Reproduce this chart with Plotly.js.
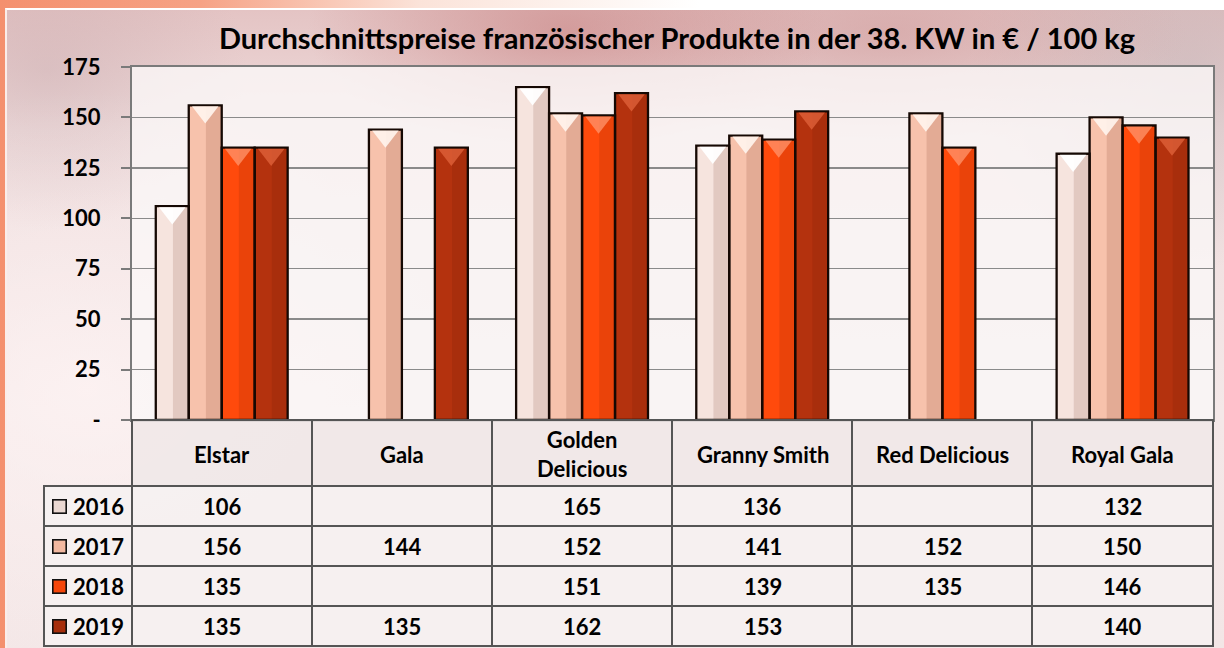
<!DOCTYPE html>
<html>
<head>
<meta charset="utf-8">
<script src="https://cdn.plot.ly/plotly-3.0.1.min.js"></script>
<style>
  html, body { margin: 0; padding: 0; }
  #frame {
    position: relative; width: 1224px; height: 648px; overflow: hidden;
    background: linear-gradient(90deg, #F4906E 0px, #F6A285 200px, #FBE3D9 420px, #FFFFFF 700px);
  }
  #photo {
    position: absolute; left: 5px; top: 8px; right: 0; bottom: 0;
    border-left: 2px solid #FBEDEA; border-top: 2px solid #FFFFFF;
    background:
      radial-gradient(ellipse 260px 120px at 560px 20px, rgba(196,120,120,0.55), rgba(196,120,120,0) 100%),
      radial-gradient(ellipse 300px 110px at 880px 25px, rgba(200,140,140,0.45), rgba(200,140,140,0) 100%),
      radial-gradient(ellipse 200px 160px at 40px 60px, rgba(190,160,165,0.35), rgba(190,160,165,0) 100%),
      radial-gradient(ellipse 220px 200px at 1180px 60px, rgba(170,160,165,0.35), rgba(170,160,165,0) 100%),
      radial-gradient(ellipse 400px 300px at 80px 380px, rgba(255,245,245,0.7), rgba(255,245,245,0) 100%),
      linear-gradient(180deg, #E4C4C4 0px, #EFDCDC 120px, #F4E8E8 400px, #F3E6E6 648px);
  }
  #chart { position: absolute; left: 0; top: 0; width: 1224px; height: 648px; }
</style>
</head>
<body>
<div id="frame"><div id="photo"></div><div id="chart"></div></div>
<script>
// ---- data ----
const categories = ['Elstar', 'Gala', 'Golden Delicious', 'Granny Smith', 'Red Delicious', 'Royal Gala'];
const headerLabels = ['Elstar', 'Gala', 'Golden<br>Delicious', 'Granny Smith', 'Red Delicious', 'Royal Gala'];
const years = ['2016', '2017', '2018', '2019'];
const v2016 = [106, null, 165, 136, null, 132];
const v2017 = [156, 144, 152, 141, 152, 150];
const v2018 = [135, null, 151, 139, 135, 146];
const v2019 = [135, 135, 162, 153, null, 140];
const yTickVals = [0, 25, 50, 75, 100, 125, 150, 175];
const yTickText = ['-', '25', '50', '75', '100', '125', '150', '175'];
const title = 'Durchschnittspreise französischer Produkte in der 38. KW in € / 100 kg';

// ---- style ----
const series = [v2016, v2017, v2018, v2019];
const mainColors = ['#F6E4DE', '#F7C2AC', '#FF4A0C', '#B4320E'];
const triColors = ['rgba(255,255,255,0.95)', 'rgba(255,245,238,0.9)', 'rgba(255,150,110,0.75)', 'rgba(225,100,60,0.75)'];
const legendColors = ['#EAD8D2', '#F2B8A0', '#F5460A', '#A62E0C'];
const FONT = 'Lato, "Open Sans", "Noto Sans", sans-serif';
const TXT = { family: FONT, size: 22, color: '#000', weight: 'bold' };
const BAR_W = 0.183;
const GROUP_OFF = -0.368;
const W = 1224, H = 648;
const ML = 44, MR = 11;
const plotL = 132, plotR = 1213, plotT = 67, plotB = 420;
const areaW = W - ML - MR;
const headH = 66, rowH = 40;
const TRI_SIZE = 23;
const pxPerUnit = (plotB - plotT) / 175;
const triShift = (TRI_SIZE / 4 + 1) / pxPerUnit;

const traces = [];
series.forEach((vals, k) => {
  traces.push({
    type: 'bar', x: categories, y: vals, name: years[k],
    offset: GROUP_OFF + k * BAR_W, width: BAR_W,
    marker: { color: mainColors[k], line: { width: 0 } },
    hoverinfo: 'skip', showlegend: false
  });
});
series.forEach((vals, k) => {
  traces.push({
    type: 'bar', x: categories, y: vals,
    offset: GROUP_OFF + k * BAR_W + BAR_W * 0.52, width: BAR_W * 0.48,
    marker: { color: 'rgba(90,20,0,0.13)', line: { width: 0 } },
    hoverinfo: 'skip', showlegend: false
  });
});
// top highlight triangles, on overlay axes matching the category slots
series.forEach((vals, k) => {
  traces.push({
    type: 'scatter', mode: 'markers',
    x: categories.map((c, i) => i + GROUP_OFF + (k + 0.5) * BAR_W), y: vals,
    xaxis: 'x2', yaxis: 'y2',
    marker: { symbol: 'triangle-down', size: TRI_SIZE, color: triColors[k], line: { width: 0 } },
    hoverinfo: 'skip', showlegend: false
  });
});
series.forEach((vals, k) => {
  traces.push({
    type: 'bar', x: categories, y: vals,
    offset: GROUP_OFF + k * BAR_W, width: BAR_W,
    marker: { color: 'rgba(0,0,0,0)', line: { width: 2.3, color: '#150803' } },
    hoverinfo: 'skip', showlegend: false
  });
});

// table grid
const blank = years.map(() => '');
traces.push({
  type: 'table',
  domain: { x: [0, 1], y: [0, (H - plotB) / H] },
  columnwidth: [88, 180, 180, 180, 180, 180, 181],
  header: {
    values: ['', '', '', '', '', '', ''],
    height: headH,
    fill: { color: ['rgba(0,0,0,0)'].concat(categories.map(() => 'rgba(240,232,232,0.85)')) },
    line: { color: ['rgba(0,0,0,0)'].concat(categories.map(() => '#555555')), width: 1.5 }
  },
  cells: {
    values: [blank].concat(categories.map(() => blank)),
    height: rowH,
    fill: { color: 'rgba(246,241,241,0.85)' },
    line: { color: '#555555', width: 1.5 },
    font: { size: 10 }
  }
});

const annotations = [];
categories.forEach((c, i) => {
  annotations.push({
    x: c, xref: 'x', y: (H - (plotB + headH / 2 + 1)) / H, yref: 'paper', yanchor: 'middle',
    text: headerLabels[i], showarrow: false, font: TXT
  });
});
series.forEach((vals, k) => {
  const yc = (H - (plotB + headH + rowH * k + rowH / 2)) / H;
  annotations.push({
    x: (52 - ML) / areaW, xref: 'paper', xanchor: 'left', y: yc, yref: 'paper', yanchor: 'middle',
    text: ' ', showarrow: false, width: 12, height: 12, bgcolor: legendColors[k],
    bordercolor: '#111', borderwidth: 1.6, borderpad: 0, font: { size: 4 }
  });
  annotations.push({
    x: (71 - ML) / areaW, xref: 'paper', xanchor: 'left', y: yc, yref: 'paper', yanchor: 'middle',
    text: years[k], showarrow: false, font: TXT
  });
  vals.forEach((v, i) => {
    if (v === null) return;
    annotations.push({
      x: categories[i], xref: 'x', y: yc, yref: 'paper', yanchor: 'middle',
      text: String(v), showarrow: false, font: TXT
    });
  });
});

const layout = {
  width: W, height: H,
  margin: { l: ML, r: MR, t: 0, b: 0, pad: 0 },
  paper_bgcolor: 'rgba(0,0,0,0)',
  plot_bgcolor: 'rgba(250,246,246,0.82)',
  barmode: 'overlay',
  showlegend: false,
  title: {
    text: title, x: 677 / W, xref: 'container', xanchor: 'center',
    y: 1 - 39 / H, yref: 'container', yanchor: 'middle',
    font: { family: FONT, size: 29, color: '#000', weight: 'bold' }
  },
  xaxis: {
    domain: [(plotL - ML) / areaW, 1],
    type: 'category', showticklabels: false, ticks: '',
    showgrid: false, showline: true, linecolor: '#7a7a7a', linewidth: 2, mirror: true,
    fixedrange: true
  },
  xaxis2: {
    domain: [(plotL - ML) / areaW, 1], overlaying: 'x',
    range: [-0.5, categories.length - 0.5], visible: false, fixedrange: true
  },
  yaxis: {
    domain: [(H - plotB) / H, (H - plotT) / H],
    range: [0, 175], tickvals: yTickVals, ticktext: yTickText,
    ticks: 'outside', ticklen: 9, tickcolor: '#7a7a7a', tickwidth: 2,
    ticklabelstandoff: 16,
    tickfont: TXT,
    showgrid: true, gridcolor: '#8a8a8a', gridwidth: 1.5,
    showline: true, linecolor: '#7a7a7a', linewidth: 2, mirror: true,
    zeroline: false, fixedrange: true
  },
  yaxis2: {
    overlaying: 'y', range: [triShift, 175 + triShift],
    visible: false, showgrid: false, fixedrange: true
  },
  annotations: annotations
};

Plotly.newPlot('chart', traces, layout, { displayModeBar: false, staticPlot: true });
</script>
</body>
</html>
